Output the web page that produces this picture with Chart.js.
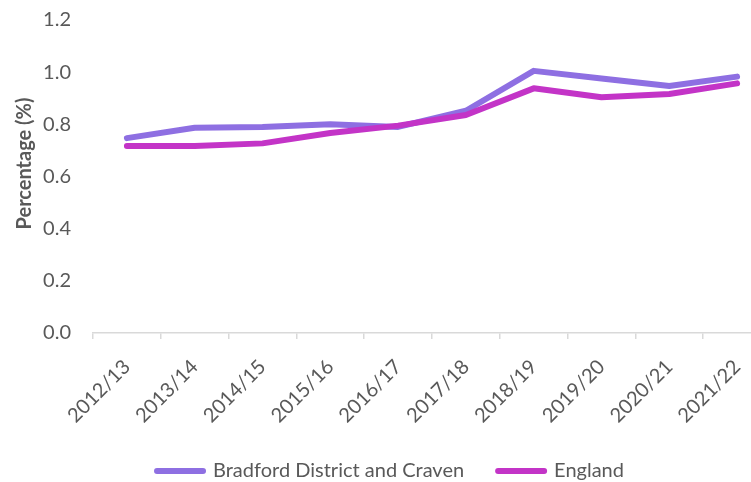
<!DOCTYPE html>
<html>
<head>
<meta charset="utf-8">
<script src="https://cdn.jsdelivr.net/npm/chart.js@4.4.1/dist/chart.umd.min.js"></script>
<style>
html,body{margin:0;padding:0;overflow:hidden;background:#ffffff;width:751px;height:482px}
#wrap{width:781px;height:482px;position:relative}
</style>
</head>
<body>
<div id="wrap"><canvas id="c" width="781" height="482"></canvas></div>
<script>
const categories = ['2012/13','2013/14','2014/15','2015/16','2016/17','2017/18','2018/19','2019/20','2020/21','2021/22'];
const bradford = [0.747,0.787,0.790,0.800,0.790,0.852,1.005,0.976,0.947,0.983];
const england  = [0.717,0.717,0.727,0.767,0.795,0.836,0.938,0.904,0.916,0.957];
const seriesNames = ['Bradford District and Craven','England'];
const yAxisTitle = 'Percentage (%)';
const yMin = 0, yMax = 1.2, yStep = 0.2;

const textColor = '#595959';
const axisColor = '#D9D9D9';
const bradfordColor = '#8E6FE2';
const englandColor = '#C334C7';

Chart.defaults.font.family = 'Lato, "Open Sans", sans-serif';
Chart.defaults.font.size = 20;
Chart.defaults.color = textColor;

const yTitlePlugin = {
  id: 'yTitle',
  afterDraw(chart) {
    const ctx = chart.ctx;
    const a = chart.chartArea;
    ctx.save();
    ctx.translate(25, (a.top + a.bottom) / 2 - 13);
    ctx.rotate(-Math.PI / 2);
    ctx.font = 'bold 20px Lato, "Open Sans", sans-serif';
    ctx.fillStyle = textColor;
    ctx.textAlign = 'center';
    ctx.textBaseline = 'middle';
    ctx.fillText(yAxisTitle, 0, 0);
    ctx.restore();
  }
};

new Chart(document.getElementById('c'), {
  type: 'line',
  data: {
    labels: categories,
    datasets: [
      {label: seriesNames[0], data: bradford, borderColor: bradfordColor, backgroundColor: bradfordColor, order: 1, yAxisID: 'y'},
      {label: seriesNames[1], data: england, borderColor: englandColor, backgroundColor: englandColor, order: 0, yAxisID: 'y'}
    ]
  },
  options: {
    responsive: false,
    animation: false,
    layout: {padding: {top: 20, right: 0, bottom: 0, left: 0}},
    elements: {
      line: {borderWidth: 6, tension: 0, borderCapStyle: 'round', borderJoinStyle: 'round'},
      point: {radius: 0, hoverRadius: 0}
    },
    plugins: {
      tooltip: {enabled: false},
      legend: {
        position: 'bottom',
        maxHeight: 55,
        labels: {
          usePointStyle: true,
          pointStyleWidth: 46,
          boxHeight: 6,
          padding: 34,
          color: textColor,
          font: {size: 20},
          sort: (a, b) => a.datasetIndex - b.datasetIndex,
          generateLabels(chart) {
            const items = Chart.defaults.plugins.legend.labels.generateLabels(chart);
            items.forEach(it => {
              const ds = chart.data.datasets[it.datasetIndex];
              it.pointStyle = 'line';
              it.fillStyle = ds.borderColor;
              it.strokeStyle = ds.borderColor;
              it.lineWidth = 6;
              it.lineCap = 'round';
            });
            return items;
          }
        }
      }
    },
    scales: {
      x: {
        offset: true,
        grid: {display: true, drawOnChartArea: false, drawTicks: true, tickLength: 6, color: axisColor, offset: true, lineWidth: 1.5},
        border: {display: true, color: axisColor, width: 1.5},
        ticks: {minRotation: 45, maxRotation: 45, padding: 16, color: textColor, font: {size: 20}, autoSkip: false},
        afterFit(scale) { scale.height = 94; }
      },
      y: {
        position: 'left',
        min: yMin, max: yMax,
        grid: {display: false, drawTicks: true, tickLength: 22},
        border: {display: false},
        ticks: {stepSize: yStep, padding: 0, color: textColor, font: {size: 20}, callback: v => Number(v).toFixed(1)},
        afterFit(scale) { scale.width = 93; }
      },
      yRightSpace: {
        position: 'right',
        display: true,
        min: yMin, max: yMax,
        grid: {display: false, drawTicks: false},
        border: {display: false},
        ticks: {display: false},
        afterFit(scale) { scale.width = 10; }
      }
    }
  },
  plugins: [yTitlePlugin]
});
</script>
</body>
</html>
